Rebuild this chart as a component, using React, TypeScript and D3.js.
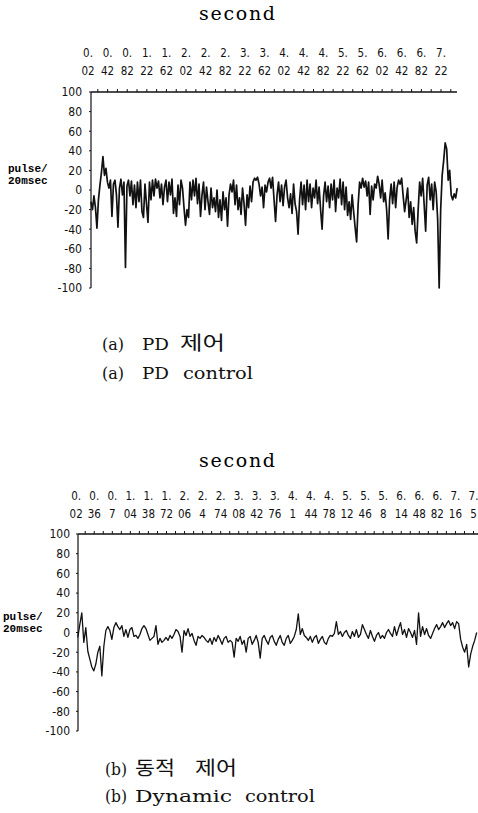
import React from "react";
import * as d3 from "d3";

const PD_TICKS = [0.02, 0.42, 0.82, 1.22, 1.62, 2.02, 2.42, 2.82, 3.22, 3.62, 4.02, 4.42, 4.82, 5.22, 5.62, 6.02, 6.42, 6.82, 7.22];
const DYN_TICKS = [0.02, 0.36, 0.7, 1.04, 1.38, 1.72, 2.06, 2.4, 2.74, 3.08, 3.42, 3.76, 4.1, 4.44, 4.78, 5.12, 5.46, 5.8, 6.14, 6.48, 6.82, 7.16, 7.5];
const Y_TICKS = [100, 80, 60, 40, 20, 0, -20, -40, -60, -80, -100];

const PD_TIME = [0.08, 7.55];
const PD_VALUES = [
  -12, -20, -6, -18, -39, -10, 5, 18, 34, 15, 22, 8, 2, 10, -27, 6, 10, -5, -38, 2,
  11, -5, 8, -79, 4, 10, -6, 9, -15, 5, -18, 8, -12, 10, -22, -28, 6, -14, -33, 8,
  -10, 10, -6, 11, 2, 9, -8, 6, -15, 3, 10, -12, 8, -5, 11, -24, -8, -27, 5, -15,
  10, 2, -18, -36, -20, -28, 8, -10, 10, -6, 12, -14, 6, -27, -5, 8, -20, 3, -12, -25,
  2, -18, -8, -22, 0, -28, -10, -31, -2, -20, -8, -37, -5, 6, -2, 10, -15, 5, -20, -8,
  -25, 2, -14, -36, -5, -18, 4, -12, 8, 12, 10, 13, 6, -6, 3, -18, 5, -2, 8, 12,
  2, 13, -10, -32, -5, 8, -12, 5, -16, 3, 10, -8, -18, -4, -24, 6, -14, -22, -45, -10,
  8, -15, 5, -20, 10, -12, 6, -18, 2, -8, 10, -14, 3, -20, -40, -6, 8, -12, 4, -18,
  6, -10, 10, -22, 2, -8, 11, -15, 8, -20, 3, -26, -12, -30, -5, -22, -38, -53, -15, 8,
  2, 12, 3, 9, -6, 8, -25, 4, -10, 6, 2, 14, 6, -8, 10, -12, -3, -20, -50, -10,
  6, -14, 8, -18, 3, 10, 6, 12, -6, -22, -10, 2, -28, -12, -35, -18, -42, -54, -20, 8,
  -6, 12, -15, -42, 5, 13, -10, 6, -20, 8, -2, -30, -100, -20, 15, 30, 48, 42, 10, 20,
  -5, -10, -4, -8, 2
];

const DYN_TIME = [0.05, 7.56];
const DYN_VALUES = [
  -5, 8, 20, -10, 5, -19, -27, -35, -39, -32, -20, -14, -44, -14, 2, 6, 2, -7, 5, 10,
  6, 3, 7, -4, 3, -5, 3, 5, -4, -3, -6, -2, 4, 7, 4, -2, -8, -6, -4, 7,
  -12, -6, -10, -8, -5, -8, -3, -6, -2, 3, 1, -4, -20, 2, -3, 4, -4, -1, -8, -13,
  -4, -6, -3, -5, -8, -10, -6, -12, -5, -9, -3, -7, -12, -6, -4, -10, -8, -10, -25, -6,
  -9, -4, -12, -8, -20, -6, -4, -12, -8, -3, -10, -26, -6, -3, -8, -12, -5, -3, -9, -13,
  -7, -3, -10, -13, -6, -3, -11, -8, -4, 3, 19, -2, 4, -3, -5, -8, -4, -10, -5, -3,
  -11, -7, -4, -10, -12, -6, -3, -4, -1, 11, -2, 1, -4, 0, 2, -3, -6, 1, -4, 3,
  -5, -2, 8, 3, -2, -6, 2, -4, -9, -3, 0, -6, -3, -6, 0, 3, -1, -4, 6, -3,
  4, 10, -2, 3, -5, 4, 0, -5, 2, -12, 20, -4, 6, -2, 4, -3, -6, -1, 4, 8,
  3, 6, 10, 5, 9, 12, 7, 10, 4, 11, 9, -7, -15, -20, -12, -35, -22, -14, -8, 0
];

const serif = "'DejaVu Serif', 'Noto Sans CJK KR', serif";
const korean = "'Noto Sans CJK KR', sans-serif";
const plotFont = "'DejaVu Sans Condensed', 'DejaVu Sans', sans-serif";
const unitFont = "'Liberation Mono', 'DejaVu Sans Mono', monospace";

type PanelProps = {
  ticks: number[];
  values: number[];
  time: number[];
  xLabelRange: [number, number];
  plotLeft: number;
  plotRight: number;
  yTop: number;
  yBottom: number;
  titleY: number;
  row1: number;
  row2: number;
  yLabelRight: number;
  unitX: number;
  unitY: number;
  tickStep: number;
  strokeW: number;
};

function splitLabel(v: number): [string, string] {
  const s = String(v);
  const i = s.indexOf(".");
  return [s.slice(0, i + 1), s.slice(i + 1)];
}

function Panel(p: PanelProps) {
  const x = d3.scaleLinear().domain([p.ticks[0], p.ticks[p.ticks.length - 1]]).range(p.xLabelRange);
  const y = d3.scaleLinear().domain([-100, 100]).range([p.yBottom, p.yTop]);
  const n = p.values.length;
  const tAt = d3.scaleLinear().domain([0, n - 1]).range(p.time);
  const line = d3
    .line<number>()
    .x((_, i) => x(tAt(i)))
    .y((v) => y(Math.max(-100, Math.min(100, v))));
  const minor: number[] = [];
  for (let t = p.ticks[0]; x(t) <= p.plotRight; t += p.tickStep) {
    if (x(t) >= p.plotLeft) minor.push(t);
  }
  return (
    <g>
      <text x={237} y={p.titleY} textAnchor="middle" fontFamily={serif} fontSize={19} textLength={76} lengthAdjust="spacing">
        second
      </text>
      {p.ticks.map((t, i) => {
        const [a, b] = splitLabel(t);
        return (
          <g key={i} fontFamily={plotFont} fontSize={11.5} textAnchor="middle" fill="#111">
            <text x={x(t)} y={p.row1}>{a}</text>
            <text x={x(t)} y={p.row2}>{b}</text>
          </g>
        );
      })}
      <line x1={p.plotLeft} x2={p.plotRight} y1={p.yTop} y2={p.yTop} stroke="#111" strokeWidth={1.4} />
      {minor.map((t, i) => (
        <line key={i} x1={x(t)} x2={x(t)} y1={p.yTop} y2={p.yTop - 3} stroke="#111" strokeWidth={1} />
      ))}
      <line x1={p.plotLeft} x2={p.plotLeft} y1={p.yTop} y2={p.yBottom} stroke="#111" strokeWidth={1.2} />
      {Y_TICKS.map((v) => (
        <g key={v}>
          <line x1={p.plotLeft - 2} x2={p.plotLeft} y1={y(v)} y2={y(v)} stroke="#111" strokeWidth={1} />
          <text x={p.yLabelRight} y={y(v)} dy="0.36em" textAnchor="end" fontFamily={plotFont} fontSize={12} fill="#111">
            {v}
          </text>
        </g>
      ))}
      <text x={p.unitX} y={p.unitY} fontFamily={unitFont} fontSize={11} fontWeight="bold">pulse/</text>
      <text x={p.unitX} y={p.unitY + 12} fontFamily={unitFont} fontSize={11} fontWeight="bold">20msec</text>
      <path d={line(p.values) || ""} fill="none" stroke="#111" strokeWidth={p.strokeW} strokeLinejoin="round" />
    </g>
  );
}

function Word({ x, y, w, text, kr }: { x: number; y: number; w: number; text: string; kr?: boolean }) {
  return (
    <text
      x={x}
      y={y}
      fontFamily={kr ? korean : serif}
      fontSize={kr ? 19 : 17}
      textLength={w}
      lengthAdjust="spacingAndGlyphs"
      fill="#111"
    >
      {text}
    </text>
  );
}

export default function App() {
  return (
    <svg width={478} height={813} style={{ position: "absolute", left: 0, top: 0, background: "#fff" }}>
      <rect width={478} height={813} fill="#fff" />
      <Panel
        ticks={PD_TICKS}
        values={PD_VALUES}
        time={PD_TIME as [number, number]}
        xLabelRange={[88, 441]}
        plotLeft={91}
        plotRight={457}
        yTop={92}
        yBottom={288}
        titleY={20}
        row1={57}
        row2={75}
        yLabelRight={82}
        unitX={8}
        unitY={172}
        tickStep={0.2}
        strokeW={1.7}
      />
      <Panel
        ticks={DYN_TICKS}
        values={DYN_VALUES}
        time={DYN_TIME as [number, number]}
        xLabelRange={[76.2, 473.5]}
        plotLeft={78}
        plotRight={478}
        yTop={534}
        yBottom={731}
        titleY={467}
        row1={500}
        row2={518}
        yLabelRight={70}
        unitX={3}
        unitY={620}
        tickStep={0.17}
        strokeW={1.3}
      />
      <Word x={102} y={350} w={22} text="(a)" />
      <Word x={142} y={350} w={27} text="PD" />
      <Word x={180} y={350} w={45} text="제어" kr />
      <Word x={102} y={379} w={22} text="(a)" />
      <Word x={142} y={379} w={27} text="PD" />
      <Word x={183} y={379} w={70} text="control" />
      <Word x={105} y={775} w={22} text="(b)" />
      <Word x={135} y={775} w={40} text="동적" kr />
      <Word x={195} y={775} w={42} text="제어" kr />
      <Word x={105} y={802} w={22} text="(b)" />
      <Word x={135} y={802} w={97} text="Dynamic" />
      <Word x={245} y={802} w={70} text="control" />
    </svg>
  );
}
